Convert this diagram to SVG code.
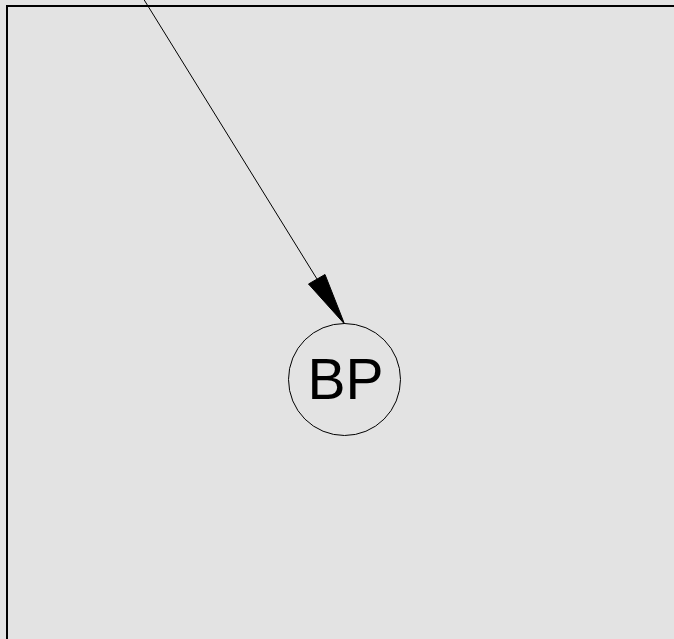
<svg xmlns="http://www.w3.org/2000/svg" width="674" height="639" viewBox="0 0 674 639">
<style>
.node circle{fill:none;stroke:#000;stroke-width:1}
.node text{font-family:"Liberation Sans",Arial,sans-serif;font-size:57px;fill:#000;text-anchor:middle}
.edge line{stroke:#000;stroke-width:1}
.edge polygon{fill:#000;stroke:#000;stroke-width:1}
</style>
<rect x="0" y="0" width="674" height="639" fill="#e3e3e3"/>
<rect x="7" y="6" width="700" height="700" fill="#e3e3e3" stroke="#000" stroke-width="2"/>
<g id="connectors" class="edge">
<line x1="143" y1="-2" x2="317" y2="279"/>
<polygon points="344.5,324 308.5,284 325,274.5"/>
</g>
<g id="BP" class="node">
<circle cx="344.5" cy="379.5" r="56"/>
<text x="345.5" y="399">BP</text>
</g>
</svg>
